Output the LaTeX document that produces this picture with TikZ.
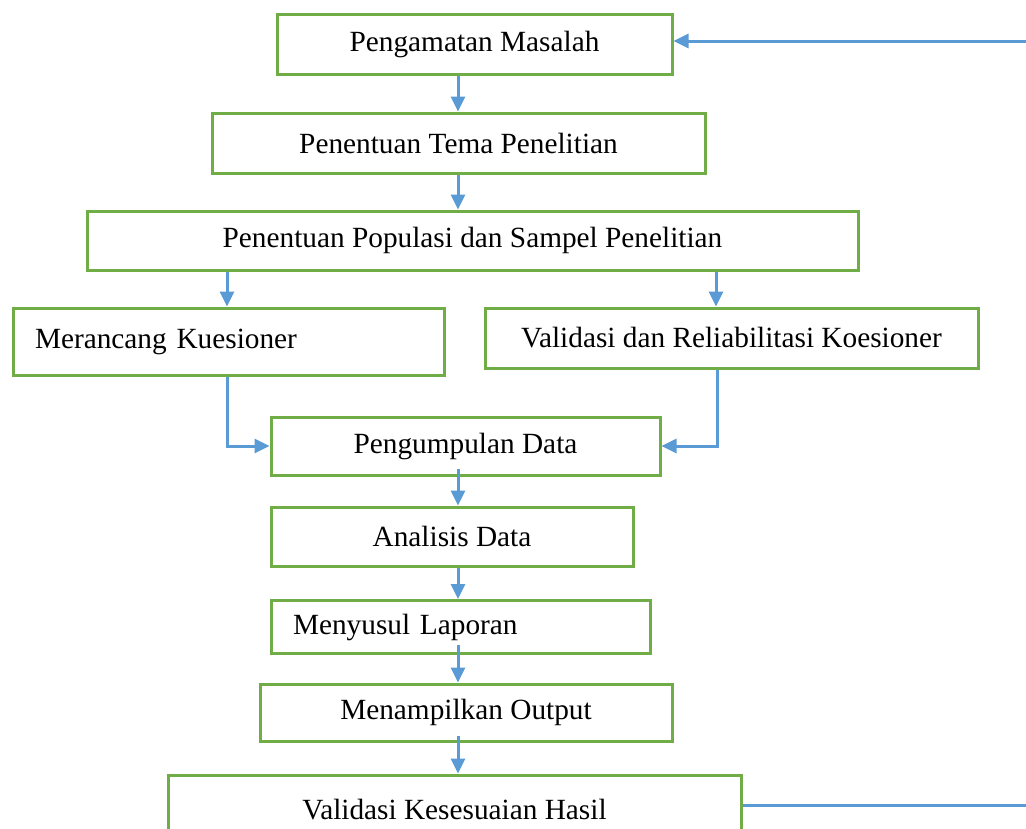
\documentclass[tikz,border=0pt]{standalone}
\usepackage{fontspec}
\setmainfont{Liberation Serif}
\usetikzlibrary{arrows.meta}
\definecolor{boxgreen}{RGB}{112,173,71}
\definecolor{flowblue}{RGB}{91,155,213}

\begin{document}
\begin{tikzpicture}[x=1pt, y=-1pt,
    box/.style={draw=boxgreen, line width=3pt, inner sep=0pt, font=\fontsize{29.3}{35}\selectfont},
    leftbox/.style={box, align=left, inner xsep=22pt},
    link/.style={draw=flowblue, line width=3pt},
    flow/.style={link, -{Triangle[length=15pt, width=14pt]}}]
      \useasboundingbox (0,0) rectangle (1026,828);

      % process boxes
      \node[box, minimum width=395pt, minimum height=60pt] (masalah) at (474.5,44) {Pengamatan Masalah};
      \node[box, minimum width=493pt, minimum height=60pt] (tema) at (458.5,143) {Penentuan Tema Penelitian};
      \node[box, minimum width=771pt, minimum height=59pt] (populasi) at (472.5,240.5) {Penentuan Populasi dan Sampel Penelitian};
      \node[leftbox, text width=387pt, minimum height=67pt] (kuesioner) at (228.5,341.5) {Merancang Kuesioner};
      \node[box, minimum width=493pt, minimum height=60pt] (validasi) at (731.5,338) {Validasi dan Reliabilitasi Koesioner};
      \node[box, minimum width=389pt, minimum height=58pt] (pengumpulan) at (465.5,446) {Pengumpulan Data};
      \node[box, minimum width=362pt, minimum height=59pt] (analisis) at (452,536.5) {Analisis Data};
      \node[leftbox, text width=335pt, minimum height=53pt] (laporan) at (460.5,627) {Menyusul Laporan};
      \node[box, minimum width=412pt, minimum height=57pt] (output) at (466,712.5) {Menampilkan Output};
      \node[box, minimum width=573pt, minimum height=70pt] (hasil) at (454.5,810) {Validasi Kesesuaian Hasil};

      \coordinate (spine) at (458,0);
      \coordinate (backout) at (1026,805);
      \coordinate (backin) at (1026,41);

      % connectors
      \draw[flow] (masalah.south -| spine) -- (tema.north -| spine);
      \draw[flow] (tema.south -| spine) -- (populasi.north -| spine);
      \draw[flow] ([xshift=-1.5pt]kuesioner.north |- populasi.south) -- ([xshift=-1.5pt]kuesioner.north);
      \draw[flow] ([xshift=-15.5pt]validasi.north |- populasi.south) -- ([xshift=-15.5pt]validasi.north);
      \draw[flow] ([xshift=-1.5pt]kuesioner.south) |- (pengumpulan.west);
      \draw[flow] ([xshift=-14.5pt]validasi.south) |- (pengumpulan.east);
      \draw[flow] ([yshift=8pt]pengumpulan.south -| spine) -- (analisis.north -| spine);
      \draw[flow] (analisis.south -| spine) -- (laporan.north -| spine);
      \draw[flow] ([yshift=10pt]laporan.south -| spine) -- (output.north -| spine);
      \draw[flow] ([yshift=7pt]output.south -| spine) -- (hasil.north -| spine);

      % feedback line
      \draw[link] (hasil.east |- backout) -- (backout);
      \draw[flow] (backin) -- (backin -| masalah.east);
    \end{tikzpicture}
\end{document}
